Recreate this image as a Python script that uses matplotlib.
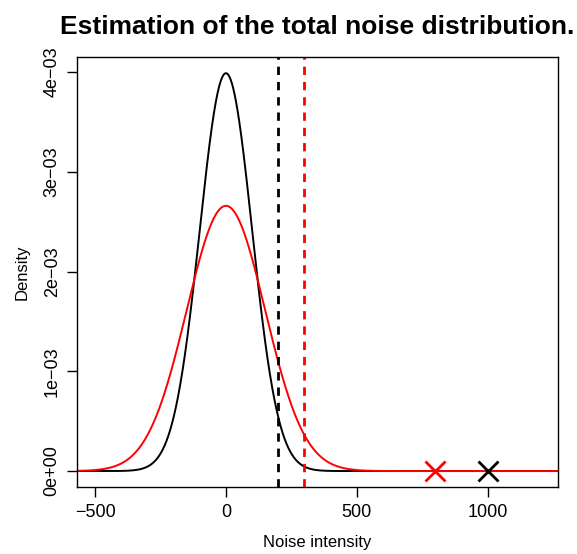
import numpy as np
import matplotlib
matplotlib.use("Agg")
import matplotlib.pyplot as plt

plt.rcParams['font.family'] = ['Liberation Sans', 'DejaVu Sans']
plt.rcParams['axes.unicode_minus'] = True

# Data
curve_means = [0, 0]
curve_sds = [100, 150]
curve_colors = ['black', 'red']
thresholds = [200, 300]          # dashed vertical lines
marker_x = [800, 1000]
marker_colors = ['red', 'black']
x_ticks = [-500, 0, 500, 1000]
x_tick_labels = ['\u2212500', '0', '500', '1000']
y_ticks = [0, 0.001, 0.002, 0.003, 0.004]
y_tick_labels = ['0e+00', '1e\u221203', '2e\u221203', '3e\u221203', '4e\u221203']
x_data_range = (-500, 1200)

fig = plt.figure(figsize=(5.77, 5.54), dpi=100)
ax = fig.add_axes([0.134, 0.121, 0.8326, 0.7756])

xs = np.linspace(-700, 1400, 3000)
for m, s, c in zip(curve_means, curve_sds, curve_colors):
    y = np.exp(-0.5 * ((xs - m) / s) ** 2) / (s * np.sqrt(2 * np.pi))
    ax.plot(xs, y, color=c, lw=1.4)

for t, c in zip(thresholds, curve_colors):
    ax.axvline(t, color=c, lw=2, linestyle=(0, (3, 2.5)))

for mx, c in zip(marker_x, marker_colors):
    ax.plot([mx], [0], marker='x', color=c, markersize=15, mew=2, linestyle='none')

r = x_data_range[1] - x_data_range[0]
ax.set_xlim(x_data_range[0] - 0.04 * r, x_data_range[1] + 0.04 * r)
ymax = 1 / (100 * np.sqrt(2 * np.pi))
ax.set_ylim(-0.04 * ymax, ymax * 1.04)

ax.set_xticks(x_ticks)
ax.set_xticklabels(x_tick_labels)
ax.set_yticks(y_ticks)
ax.set_yticklabels(y_tick_labels, rotation=90, va='center')
ax.tick_params(direction='out', length=7, width=1, labelsize=13, pad=5)
for sp in ax.spines.values():
    sp.set_linewidth(1)

ax.set_xlabel('Noise intensity', fontsize=12, labelpad=10)
ax.set_ylabel('Density', fontsize=12, labelpad=10)
ax.set_title('Estimation of the total noise distribution.', fontsize=19, fontweight='bold', pad=17)

fig.savefig('out.png', dpi=100)
